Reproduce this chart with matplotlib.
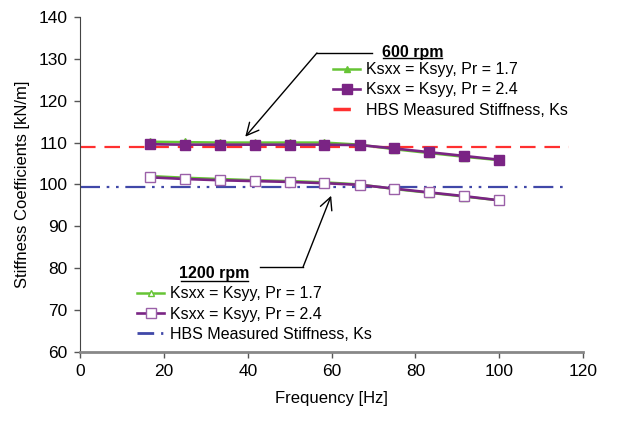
import matplotlib
matplotlib.use('Agg')
import matplotlib.pyplot as plt
from matplotlib.lines import Line2D

plt.rcParams['font.family'] = ['Liberation Sans', 'DejaVu Sans']

# frequencies [Hz]
freq = [16.7, 25.0, 33.3, 41.7, 50.0, 58.3, 66.7, 75.0, 83.3, 91.7, 100.0]

# 600 rpm
k600_pr17 = [110.2, 110.1, 110.0, 110.0, 110.0, 110.0, 109.5, 108.4, 107.5, 106.6, 105.8]
k600_pr24 = [109.6, 109.5, 109.5, 109.5, 109.5, 109.5, 109.4, 108.6, 107.7, 106.8, 105.9]
# 1200 rpm
k1200_pr17 = [102.0, 101.6, 101.3, 101.0, 100.8, 100.5, 100.0, 98.9, 98.0, 97.1, 96.2]
k1200_pr24 = [101.7, 101.3, 101.0, 100.8, 100.6, 100.3, 99.9, 99.0, 98.1, 97.2, 96.2]

# HBS measured stiffness
hbs_x = [0.0, 116.7]
hbs_600 = [108.9, 108.9]
hbs_1200 = [99.4, 99.4]

green = '#66c435'
purple = '#7a2484'
red = '#ff3030'
blue = '#4048a8'

fig = plt.figure(figsize=(6.31, 4.24), dpi=100)
ax = fig.add_axes([0.127, 0.17, 0.797, 0.79])

# measured lines
ax.plot(hbs_x, hbs_600, color=red, lw=1.6, dashes=(7, 4))
ax.plot(hbs_x, hbs_1200, color=blue, lw=1.6, dashes=(9, 3, 1.2, 3, 1.2, 3))

# 600 rpm
l1, = ax.plot(freq, k600_pr17, color=green, lw=1.8, marker='^', ms=5.5, mfc=green, mec=green)
l2, = ax.plot(freq, k600_pr24, color=purple, lw=1.9, marker='s', ms=7.5, mfc=purple, mec=purple)
# 1200 rpm
l3, = ax.plot(freq, k1200_pr17, color=green, lw=1.8, marker='^', ms=5.5, mfc='white', mec=green)
l4, = ax.plot(freq, k1200_pr24, color=purple, lw=1.9, marker='s', ms=7.5, mfc='white', mec='#9a60a8')

ax.set_xlim(0, 120)
ax.set_ylim(60, 140)
ax.set_xticks(range(0, 121, 20))
ax.set_yticks(range(60, 141, 10))
ax.tick_params(labelsize=12.5, direction='out', length=4, width=1, color='#555555', pad=5)
ax.spines['top'].set_visible(False)
ax.spines['right'].set_visible(False)
ax.spines['left'].set_color('#444444')
ax.spines['bottom'].set_color('#888888')
ax.spines['bottom'].set_linewidth(2)
ax.set_xlabel('Frequency [Hz]', fontsize=12, labelpad=8)
ax.set_ylabel('Stiffness Coefficients [kN/m]', fontsize=12, labelpad=6)

# legends
h_red = Line2D([], [], color=red, lw=2.5, dashes=(5, 20))
h_blue = Line2D([], [], color=blue, lw=2, dashes=(6, 2.5, 0.8, 10))
lab1 = 'Ksxx = Ksyy, Pr = 1.7'
lab2 = 'Ksxx = Ksyy, Pr = 2.4'
lab3 = 'HBS Measured Stiffness, Ks'

leg1 = ax.legend([l1, l2, h_red], [lab1, lab2, lab3], loc='upper left',
                 bbox_to_anchor=(0.503, 0.865), frameon=False, fontsize=11.5,
                 handlelength=1.7, handletextpad=0.35, labelspacing=0.33,
                 borderpad=0, borderaxespad=0, markerscale=0.9)
ax.add_artist(leg1)
leg2 = ax.legend([l3, l4, h_blue], [lab1, lab2, lab3], loc='upper left',
                 bbox_to_anchor=(0.113, 0.196), frameon=False, fontsize=11.5,
                 handlelength=1.7, handletextpad=0.35, labelspacing=0.33,
                 borderpad=0, borderaxespad=0, markerscale=0.9)

# 600 rpm callout
ax.text(79.3, 131.6, '600 rpm', fontsize=11.5, fontweight='bold', ha='center', va='center')
ax.plot([72.3, 86.4], [130.3, 130.3], color='black', lw=1, clip_on=False)
ax.plot([69.7, 56.5], [131.4, 131.4], color='black', lw=1, clip_on=False)
ax.annotate('', xy=(39.4, 111.4), xytext=(56.5, 131.4),
            arrowprops=dict(arrowstyle='->', color='black', lw=1, mutation_scale=22,
                            shrinkA=0, shrinkB=0))

# 1200 rpm callout
ax.text(32.0, 78.7, '1200 rpm', fontsize=11.5, fontweight='bold', ha='center', va='center')
ax.plot([24.0, 40.1], [76.9, 76.9], color='black', lw=1, clip_on=False)
ax.plot([42.9, 53.2], [80.3, 80.3], color='black', lw=1, clip_on=False)
ax.annotate('', xy=(59.9, 97.3), xytext=(53.2, 80.3),
            arrowprops=dict(arrowstyle='->', color='black', lw=1, mutation_scale=22,
                            shrinkA=0, shrinkB=0))

fig.savefig('out.png', dpi=100)
